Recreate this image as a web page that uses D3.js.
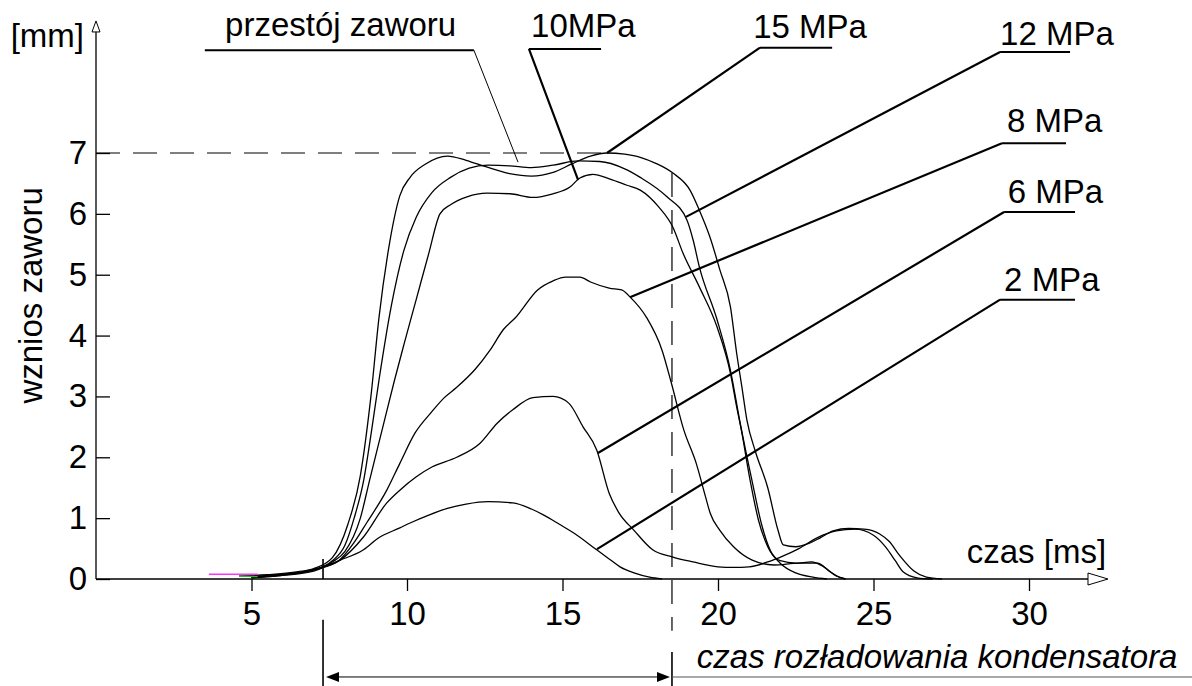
<!DOCTYPE html>
<html>
<head>
<meta charset="utf-8">
<script src="https://cdn.jsdelivr.net/npm/d3@7"></script>
<style>
body { margin: 0; background: #fff; }
svg text { font-family: "Liberation Sans", Arial, Helvetica, sans-serif; font-size: 33px; fill: #000; }
</style>
</head>
<body>
<script>
// Data: valve lift [mm] against time [ms], one array per supply pressure.
var p15 = [[4.6,0.05],[5.5,0.07],[6.5,0.12],[7.0,0.17],[7.6,0.35],[8.1,0.9],[8.5,1.7],[8.84,3.0],[9.1,4.3],[9.4,5.4],
  [9.77,6.3],[10.1,6.6],[10.6,6.82],[11.3,6.95],[11.9,6.88],[12.5,6.78],[13.3,6.66],[14.0,6.62],[14.7,6.68],[15.3,6.82],
  [15.9,6.95],[16.43,7.0],[17.0,6.98],[17.5,6.93],[18.0,6.83],[18.55,6.67],[19.1,6.39],[19.4,6.06],[19.74,5.62],[20.06,5.08],
  [20.4,4.47],[20.6,3.71],[20.77,3.15],[20.93,2.61],[21.2,2.1],[21.6,1.5],[21.93,0.8],[22.1,0.56],[22.5,0.53],[22.9,0.58],
  [23.3,0.68],[23.7,0.79],[24.2,0.83],[24.7,0.82],[25.2,0.74],[25.5,0.62],[25.85,0.38],[26.3,0.13],[26.7,0.03],[27.2,0]];

var p12 = [[5,0.04],[6,0.08],[7,0.15],[7.6,0.3],[8.0,0.55],[8.3,1.0],[8.61,1.63],[8.85,2.4],[9.1,3.27],[9.5,4.5],
  [9.9,5.4],[10.3,5.95],[10.8,6.35],[11.4,6.6],[12.0,6.75],[12.6,6.8],[13.3,6.79],[14.0,6.76],[14.7,6.8],[15.5,6.87],
  [16.2,6.86],[17.0,6.74],[17.5,6.6],[18.36,6.28],[19.0,5.9],[19.2,5.57],[19.4,5.13],[19.97,4.26],[20.4,3.43],[20.7,2.6],
  [21.1,1.6],[21.4,0.9],[21.7,0.45],[22.0,0.3],[22.5,0.26],[23.0,0.28],[23.4,0.2],[23.8,0.05],[24.1,0]];

var p10 = [[5,0.03],[6,0.06],[7,0.13],[7.6,0.28],[8.0,0.45],[8.5,1.0],[8.8,1.63],[9.2,2.45],[9.6,3.27],[9.9,3.85],
  [10.3,4.6],[10.7,5.35],[11.06,6.0],[11.4,6.15],[11.93,6.28],[12.57,6.34],[13.31,6.33],[14.05,6.27],[14.69,6.33],[15.24,6.44],
  [15.56,6.59],[15.98,6.65],[16.53,6.57],[17.07,6.47],[17.5,6.39],[18.1,6.11],[18.55,5.78],[18.87,5.36],[19.4,4.8],[19.97,4.14],
  [20.4,3.38],[20.6,2.83],[20.75,2.45],[21.03,1.63],[21.3,0.97],[21.6,0.53],[22.0,0.26],[22.5,0.1],[23.05,0.03],[23.5,0]];

var p8 = [[5,0.03],[6,0.07],[7,0.15],[7.8,0.3],[8.3,0.6],[8.7,0.92],[9.35,1.46],[9.77,1.9],[10.26,2.4],[10.8,2.75],
  [11.2,2.98],[11.6,3.15],[12.2,3.45],[12.67,3.76],[13.1,4.1],[13.5,4.3],[14.2,4.75],[14.7,4.9],[15.1,4.96],[15.56,4.96],
  [15.9,4.88],[16.5,4.78],[16.9,4.75],[17.2,4.62],[17.7,4.3],[18.2,3.76],[18.5,3.22],[18.9,2.45],[19.3,1.9],[19.6,1.35],
  [19.75,1.08],[20.06,0.8],[20.5,0.53],[21.1,0.31],[21.8,0.23],[22.6,0.26],[23.2,0.26],[23.6,0.12],[23.9,0.03],[24.1,0]];

var p6 = [[5,0.03],[6,0.07],[7,0.16],[7.85,0.31],[8.6,0.69],[9.35,1.25],[9.77,1.46],[10.3,1.68],[10.8,1.84],[11.6,2.0],
  [12.35,2.23],[12.9,2.56],[13.4,2.78],[14.05,2.98],[14.7,3.0],[15.2,2.89],[15.66,2.5],[16.1,2.12],[16.5,1.41],[16.8,1.1],
  [17.3,0.8],[17.9,0.48],[18.55,0.36],[19.2,0.28],[20.0,0.2],[20.5,0.19],[21.0,0.2],[21.6,0.28],[22.1,0.38],[22.6,0.5],
  [23.2,0.68],[23.8,0.79],[24.4,0.82],[25.0,0.72],[25.4,0.52],[25.7,0.3],[25.95,0.12],[26.4,0.02],[26.9,0]];

var p2 = [[5,0.02],[6,0.06],[7,0.15],[7.85,0.31],[8.6,0.48],[9.07,0.67],[9.77,0.84],[10.1,0.92],[10.7,1.05],[11.3,1.16],
  [11.9,1.23],[12.6,1.27],[13.4,1.25],[14.0,1.15],[14.4,1.05],[14.9,0.9],[15.35,0.76],[16.1,0.48],[16.5,0.33],[16.85,0.2],
  [17.3,0.1],[17.8,0.03],[18.2,0]];

// Two short coloured traces at the start of the record.
var traceMagenta = [[3.63,0.08],[5.2,0.08]],
  traceGreen = [[4.6,0.05],[5.2,0.04]];

var xTicks = [5, 10, 15, 20, 25, 30],
  yTicks = [0, 1, 2, 3, 4, 5, 6, 7];

var liftMax = 7,        // dashed reference level
  tDischargeStart = 7.3,
  tDischargeEnd = 18.52;

// Labels with leader lines, in data units: text position, underline [t0, t1, v], leader [t0, v0, t1, v1].
var labelText = ["przestój zaworu", "10MPa", "15 MPa", "12 MPa", "8 MPa", "6 MPa", "2 MPa"],
  labelPos = [[4.15,8.92],[13.99,8.91],[21.13,8.89],[29.07,8.77],[29.29,7.35],[29.32,6.18],[29.2,4.74]],
  labelLine = [[3.5,12.15,8.69],[13.92,16.24,8.71],[21.35,23.67,8.73],[29.07,31.32,8.66],[29.13,31.19,7.16],[29.2,31.48,6.03],[29.07,31.48,4.59]],
  labelLeader = [[12.15,8.69,13.57,6.85],[13.92,8.71,15.5,6.56],[21.35,8.73,16.43,7.0],[29.07,8.66,18.97,5.95],
    [29.13,7.16,17.17,4.63],[29.2,6.03,16.14,2.07],[29.07,4.59,16.11,0.49]];

// Configuration parameters.
var width = 1192,
  height = 686,
  xAxisEnd = 32.54,
  yAxisEnd = 9.17;

var svg = d3.select("body").append("svg")
    .attr("width", width)
    .attr("height", height);

var x = d3.scaleLinear().domain([0, 30]).range([96, 1029]),
  y = d3.scaleLinear().domain([0, 7]).range([579, 153]);

// Ticks.
svg.append("g")
    .attr("transform", "translate(" + x(0) + ",0)")
    .call(d3.axisLeft(y).tickValues(yTicks).tickSize(-14).tickPadding(9).tickFormat(d3.format("d")))
    .call(function(g) { g.select(".domain").remove(); })
    .attr("font-size", null).attr("font-family", null)
    .selectAll("line").attr("stroke-width", 1.3);

svg.append("g")
    .attr("transform", "translate(0," + y(0) + ")")
    .call(d3.axisBottom(x).tickValues(xTicks).tickSize(12).tickPadding(11).tickFormat(d3.format("d")))
    .call(function(g) { g.select(".domain").remove(); })
    .attr("font-size", null).attr("font-family", null)
    .selectAll("line").attr("stroke-width", 1.3);

// Axis lines with open arrow heads.
svg.append("line")
    .attr("x1", x(0)).attr("y1", y(0))
    .attr("x2", x(0)).attr("y2", y(yAxisEnd) + 10)
    .attr("stroke", "#000").attr("stroke-width", 1.3);
svg.append("polygon")
    .attr("points", [[x(0), y(yAxisEnd)], [x(0) - 4, y(yAxisEnd) + 11], [x(0) + 4, y(yAxisEnd) + 11]].join(" "))
    .attr("fill", "#fff").attr("stroke", "#000").attr("stroke-width", 1);

svg.append("line")
    .attr("x1", x(0)).attr("y1", y(0))
    .attr("x2", x(xAxisEnd) - 20).attr("y2", y(0))
    .attr("stroke", "#000").attr("stroke-width", 1.3);
svg.append("polygon")
    .attr("points", [[x(xAxisEnd), y(0)], [x(xAxisEnd) - 20, y(0) - 6], [x(xAxisEnd) - 20, y(0) + 6]].join(" "))
    .attr("fill", "#fff").attr("stroke", "#000").attr("stroke-width", 1);

// Axis titles.
svg.append("text")
    .attr("x", x(0) - 12).attr("y", y(8.74))
    .attr("text-anchor", "end")
    .text("[mm]");
svg.append("text")
    .attr("transform", "translate(42," + y(4.66) + ") rotate(-90)")
    .attr("text-anchor", "middle")
    .text("wznios zaworu");
svg.append("text")
    .attr("x", x(32.48)).attr("y", y(0.26))
    .attr("text-anchor", "end")
    .text("czas [ms]");

// Dashed reference lines.
svg.append("line")
    .attr("x1", x(0)).attr("y1", y(liftMax))
    .attr("x2", x(16.4)).attr("y2", y(liftMax))
    .attr("stroke", "#000").attr("stroke-width", 1.2)
    .attr("stroke-dasharray", "24,13");
svg.append("line")
    .attr("x1", x(tDischargeEnd)).attr("y1", y(6.67))
    .attr("x2", x(tDischargeEnd)).attr("y2", y(-0.85))
    .attr("stroke", "#000").attr("stroke-width", 1.2)
    .attr("stroke-dasharray", "24,13");

// Discharge interval markers and arrow.
var arrowV = -1.61;
[[tDischargeStart, 0.33, 0], [tDischargeStart, -0.67, -1.76], [tDischargeEnd, -1.2, -1.76]].forEach(function(m) {
  svg.append("line")
      .attr("x1", x(m[0])).attr("y1", y(m[1]))
      .attr("x2", x(m[0])).attr("y2", y(m[2]))
      .attr("stroke", "#000").attr("stroke-width", 1.6);
});
svg.append("line")
    .attr("x1", x(tDischargeStart) + 10).attr("y1", y(arrowV))
    .attr("x2", x(tDischargeEnd) - 10).attr("y2", y(arrowV))
    .attr("stroke", "#000").attr("stroke-width", 1);
svg.append("line")
    .attr("x1", x(tDischargeEnd)).attr("y1", y(arrowV))
    .attr("x2", x(35.85)).attr("y2", y(arrowV))
    .attr("stroke", "#555").attr("stroke-width", 1.2);
svg.append("polygon")
    .attr("points", [[x(tDischargeStart) + 3, y(arrowV)], [x(tDischargeStart) + 16, y(arrowV) - 5], [x(tDischargeStart) + 16, y(arrowV) + 5]].join(" "))
    .attr("fill", "#000");
svg.append("polygon")
    .attr("points", [[x(tDischargeEnd) - 2, y(arrowV)], [x(tDischargeEnd) - 15, y(arrowV) - 5], [x(tDischargeEnd) - 15, y(arrowV) + 5]].join(" "))
    .attr("fill", "#000");
svg.append("text")
    .attr("x", x(19.32)).attr("y", y(-1.46))
    .style("font-style", "italic")
    .text("czas rozładowania kondensatora");

// Lift curves.
var line = d3.line()
    .x(function(d) { return x(d[0]); })
    .y(function(d) { return y(d[1]); })
    .curve(d3.curveMonotoneX);

svg.append("g")
  .selectAll("path")
    .data([p2, p6, p8, p10, p12, p15])
  .enter().append("path")
    .attr("d", line)
    .attr("fill", "none")
    .attr("stroke", "#000")
    .attr("stroke-width", 1.3);

svg.append("path").attr("d", line(traceMagenta))
    .attr("fill", "none").attr("stroke", "#ff33ff").attr("stroke-width", 1.5);
svg.append("path").attr("d", line(traceGreen))
    .attr("fill", "none").attr("stroke", "#22bb22").attr("stroke-width", 1.5);

// Labels, underlines and leaders.
var labels = svg.append("g")
  .selectAll("g")
    .data(labelText)
  .enter().append("g");

labels.append("text")
    .attr("x", function(d, i) { return x(labelPos[i][0]); })
    .attr("y", function(d, i) { return y(labelPos[i][1]); })
    .text(function(d) { return d; });

labels.append("line")
    .attr("x1", function(d, i) { return x(labelLine[i][0]); })
    .attr("x2", function(d, i) { return x(labelLine[i][1]); })
    .attr("y1", function(d, i) { return y(labelLine[i][2]); })
    .attr("y2", function(d, i) { return y(labelLine[i][2]); })
    .attr("stroke", "#000").attr("stroke-width", 2);

labels.append("line")
    .attr("x1", function(d, i) { return x(labelLeader[i][0]); })
    .attr("y1", function(d, i) { return y(labelLeader[i][1]); })
    .attr("x2", function(d, i) { return x(labelLeader[i][2]); })
    .attr("y2", function(d, i) { return y(labelLeader[i][3]); })
    .attr("stroke", "#000")
    .attr("stroke-width", function(d, i) { return i === 0 ? 1 : 2.2; });
</script>
</body>
</html>
